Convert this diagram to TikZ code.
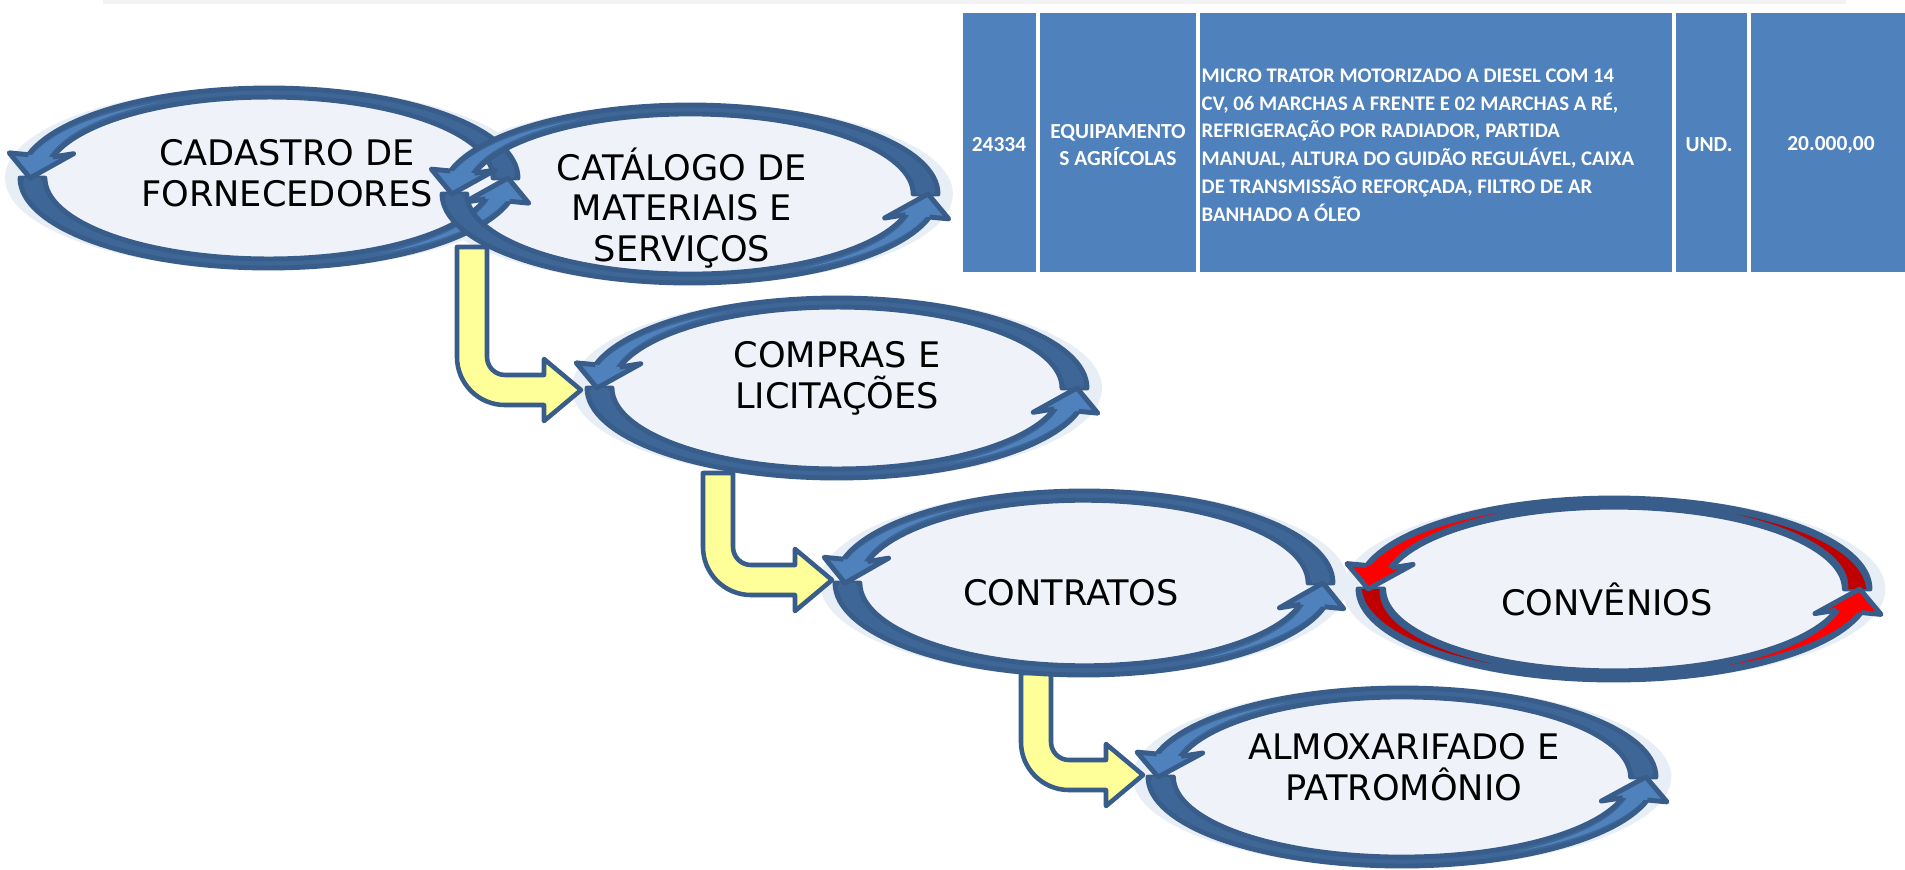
\documentclass[tikz,border=0pt]{standalone}
\usepackage{fontspec}
\setmainfont{DejaVu Sans}
\newfontfamily\tabfont{Carlito}
\usetikzlibrary{calc}
\definecolor{ol}{RGB}{56,93,138}
\definecolor{bandblue}{RGB}{62,103,152}
\definecolor{brightblue}{RGB}{79,129,189}
\definecolor{ellfill}{RGB}{239,243,249}
\definecolor{halo}{RGB}{232,238,246}
\definecolor{yel}{RGB}{255,255,153}
\definecolor{tabblue}{RGB}{79,129,189}
\definecolor{redb}{RGB}{255,0,0}
\definecolor{redd}{RGB}{192,0,0}
\definecolor{shadowgray}{RGB}{243,243,243}

\newcommand\ringhalo[4]{%
  \begin{scope}[shift={(#1,#2)},xscale=#3,yscale=-#4]
    \fill[halo] (0,0) ellipse[x radius=1.06, y radius=1.02];
  \end{scope}}
\newcommand\ringfill[4]{%
  \begin{scope}[shift={(#1,#2)},xscale=#3,yscale=-#4]
    \fill[ellfill] (0,0) circle[radius=1];
  \end{scope}}
% cx cy rx ry bandcolour brightcolour tailcolour
\newcommand\ringarrows[7]{%
  \begin{scope}[shift={(#1,#2)},xscale=#3,yscale=-#4]
    \foreach \a in {0,180}{
      \filldraw[fill=#5, draw=ol, line width=1.4pt, line join=round]
        plot[domain=\a:\a+165, samples=60] ({cos(\x)},{sin(\x)})
        -- plot[domain=\a+165:\a, samples=60] ({0.9*cos(\x)},{0.9*sin(\x)}) -- cycle;
      \fill[#7]
        plot[domain=\a:\a+60, samples=30] ({(0.95+0.035*(1-(\x-\a)/60))*cos(\x)},{(0.95+0.035*(1-(\x-\a)/60))*sin(\x)})
        -- plot[domain=\a+60:\a, samples=30] ({(0.95-0.035*(1-(\x-\a)/60))*cos(\x)},{(0.95-0.035*(1-(\x-\a)/60))*sin(\x)}) -- cycle;
      \fill[#6]
        plot[domain=\a+118:\a+166, samples=30] ({(0.95+0.036*(\x-\a-118)/48)*cos(\x)},{(0.95+0.036*(\x-\a-118)/48)*sin(\x)})
        -- plot[domain=\a+166:\a+118, samples=30] ({(0.95-0.036*(\x-\a-118)/48)*cos(\x)},{(0.95-0.036*(\x-\a-118)/48)*sin(\x)}) -- cycle;
    }
    \foreach \a in {0,180}{
      \fill[#6] ({\a+165}:1) -- ({\a+165}:1.08) -- ({\a+180}:0.96) -- ({\a+161}:0.83) -- ({\a+165}:0.9) -- cycle;
      \draw[ol, line width=1.4pt, line join=round]
        ({\a+165}:1) -- ({\a+165}:1.08) -- ({\a+180}:0.96) -- ({\a+161}:0.83) -- ({\a+165}:0.9);
    }
  \end{scope}}
\newcommand\bentarrow[2]{%
  \path[fill=yel, draw=ol, line width=1.3pt, line join=round]
    let \p1=(#1), \p2=(#2) in
    (\x1-0.15cm,\y1) -- (\x1+0.15cm,\y1) -- (\x1+0.15cm,\y2+0.33cm)
    arc[start angle=180, end angle=270, radius=0.18cm]
    -- (\x2-0.37cm,\y2+0.15cm) -- (\x2-0.37cm,\y2+0.31cm) -- (\p2)
    -- (\x2-0.37cm,\y2-0.31cm) -- (\x2-0.37cm,\y2-0.15cm)
    -- (\x1+0.33cm,\y2-0.15cm)
    arc[start angle=270, end angle=180, radius=0.48cm] -- cycle;}

\tikzset{
  ellt/.style={align=center, font=\fontsize{10}{11.6}\selectfont, inner sep=0pt},
  tabt/.style={text=white, align=center, font=\tabfont\bfseries\fontsize{6.1}{7.8}\selectfont, inner sep=0pt},
}

\begin{document}
\begin{tikzpicture}[x=0.01cm, y=-0.01cm]
\useasboundingbox (0,0) rectangle (1905,869);
\fill[white] (0,0) rectangle (1905,869);

% faint top shadow line
\draw[shadowgray, line width=1pt] (103,2) -- (1846,2);

% table
\fill[tabblue] (963,13) rectangle (1905,272);
\foreach \xx in {1038,1198,1674,1749}
  \draw[white, line width=0.9pt] (\xx,13) -- (\xx,272);
\node[tabt] (tcode) at (999,145) {24334};
\node[tabt] (tgroup) at (1118,145) {EQUIPAMENTO\\S AGRÍCOLAS};
\node[tabt, align=left, anchor=west, font=\tabfont\bfseries\fontsize{5.9}{7.9}\selectfont] (tdesc) at (1201,145) {MICRO TRATOR MOTORIZADO A DIESEL COM 14\\CV, 06 MARCHAS A FRENTE E 02 MARCHAS A RÉ,\\REFRIGERAÇÃO POR RADIADOR, PARTIDA\\MANUAL, ALTURA DO GUIDÃO REGULÁVEL, CAIXA\\DE TRANSMISSÃO REFORÇADA, FILTRO DE AR\\BANHADO A ÓLEO};
\node[tabt] (tunit) at (1709,145) {UND.};
\node[tabt] (tval) at (1831,145) {20.000,00};

% halos
\ringhalo{269}{178}{249}{90}
\ringhalo{690}{194}{248}{89}
\ringhalo{837}{388}{250}{90}
\ringhalo{1084}{583}{249}{92}
\ringhalo{1614}{589}{256}{91}
\ringhalo{1402}{777}{254}{89}

% fills
\ringfill{269}{178}{249}{90}
\ringfill{690}{194}{248}{89}
\ringfill{837}{388}{250}{90}
\ringfill{1084}{583}{249}{92}
\ringfill{1614}{589}{256}{91}
\ringfill{1402}{777}{254}{89}

% yellow bent connectors
\coordinate (y1s) at (472,247);
\coordinate (y1e) at (581,390);
\coordinate (y2s) at (718,473);
\coordinate (y2e) at (832,580);
\coordinate (y3s) at (1036,673);
\coordinate (y3e) at (1143,775);
\bentarrow{y1s}{y1e}
\bentarrow{y2s}{y2e}
\bentarrow{y3s}{y3e}

% ring arrows
\ringarrows{269}{178}{249}{90}{bandblue}{brightblue}{bandblue}
\ringarrows{690}{194}{248}{89}{bandblue}{brightblue}{bandblue}
\ringarrows{837}{388}{250}{90}{bandblue}{brightblue}{bandblue}
\ringarrows{1084}{583}{249}{92}{bandblue}{brightblue}{bandblue}
\ringarrows{1614}{589}{256}{91}{ol}{redb}{redd}
\ringarrows{1402}{777}{254}{89}{bandblue}{brightblue}{bandblue}

% texts
\node[ellt] (cad) at (287,173) {CADASTRO DE\\FORNECEDORES};
\node[ellt] (cat) at (682,208) {CATÁLOGO DE\\MATERIAIS E\\SERVIÇOS};
\node[ellt] (comp) at (837,378) {COMPRAS E\\LICITAÇÕES};
\node[ellt] (contr) at (1071,593) {CONTRATOS};
\node[ellt] (conv) at (1607,599) {CONVÊNIOS};
\node[ellt] (almox) at (1404,767) {ALMOXARIFADO E\\PATROMÔNIO};
\end{tikzpicture}
\end{document}
